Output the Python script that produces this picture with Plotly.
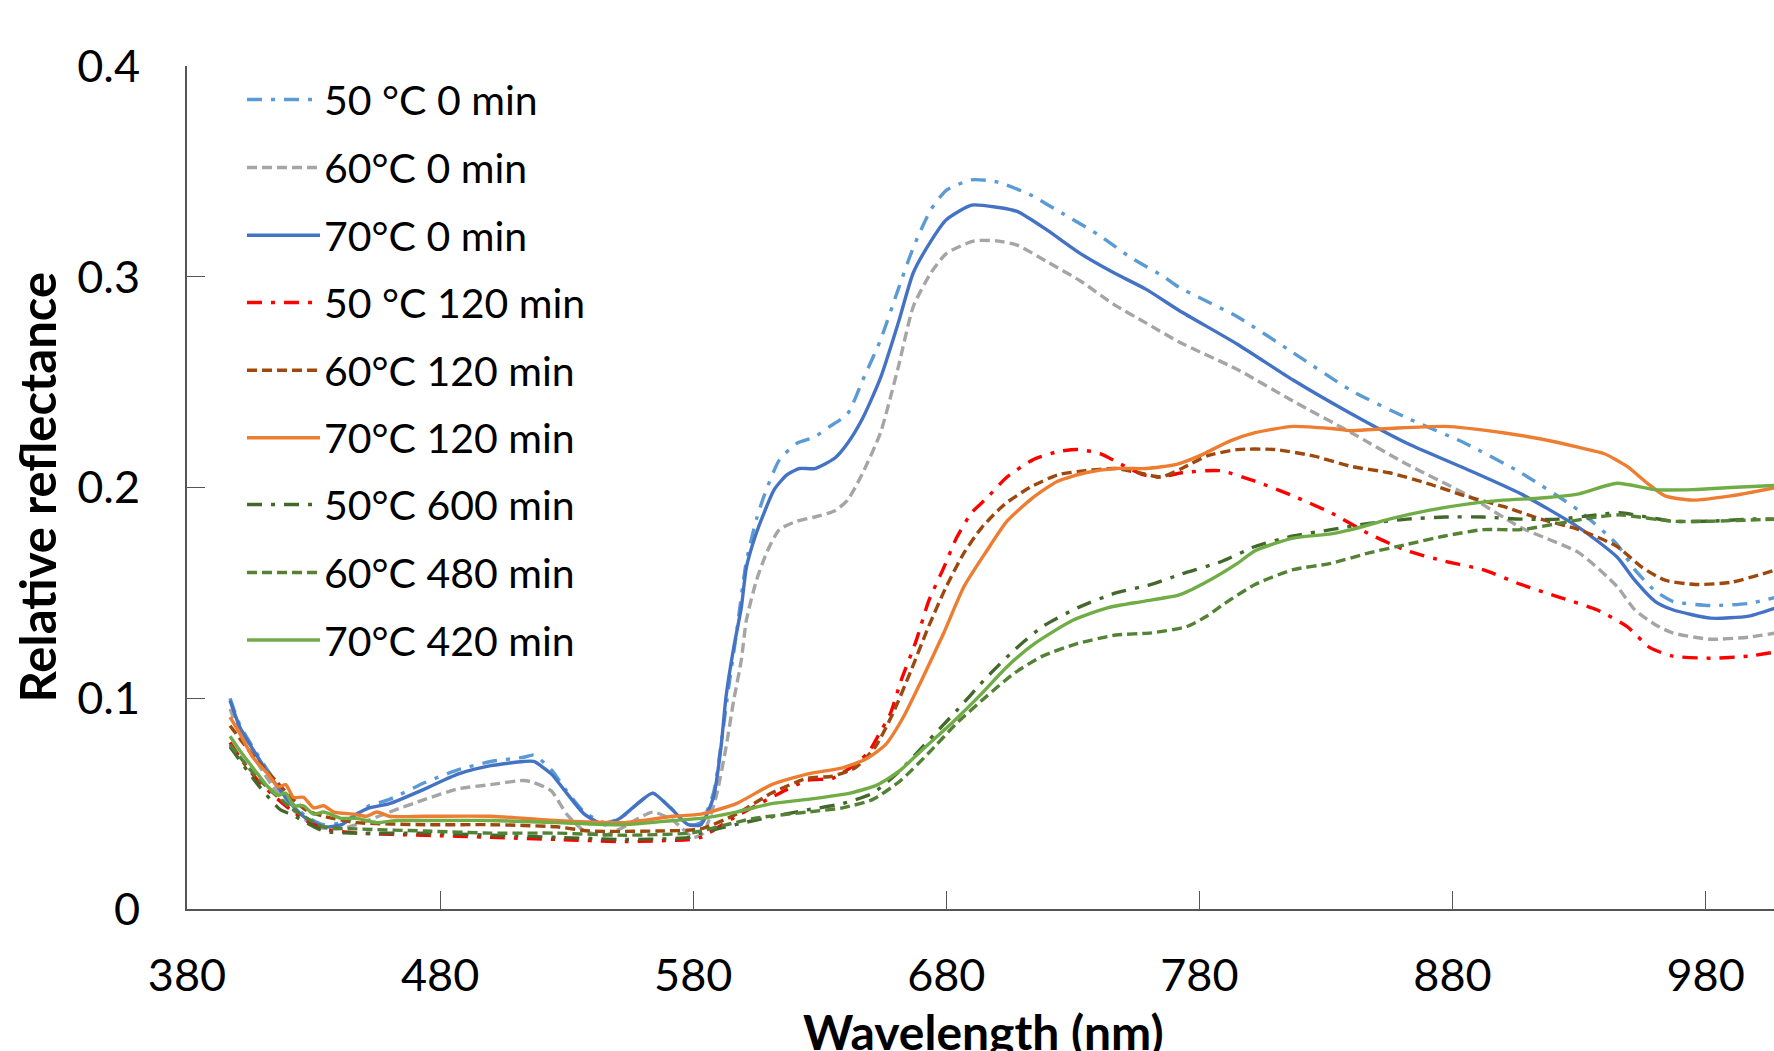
import plotly.graph_objects as go

# ---------------- data ----------------
series_names = ["50 °C 0 min", "60°C 0 min", "70°C 0 min",
                "50 °C 120 min", "60°C 120 min", "70°C 120 min",
                "50°C 600 min", "60°C 480 min", "70°C 420 min"]

wl_50_0 = [397, 401, 408, 414, 421, 427, 434, 441, 447, 452, 460, 474, 487, 500, 513, 517, 524, 530, 537, 545,
           551, 559, 564, 571, 578, 583, 588, 591, 594, 597, 601, 605, 608, 614, 621, 628, 634, 641, 647, 654,
           661, 667, 674, 680, 690, 700, 713, 726, 740, 753, 766, 772, 795, 817, 840, 862, 885, 907, 930, 945,
           952, 960, 967, 982, 997, 1008]
r_50_0 = [0.100, 0.087, 0.073, 0.062, 0.051, 0.044, 0.040, 0.041, 0.045, 0.049, 0.052, 0.060, 0.066, 0.070, 0.072,
          0.073, 0.066, 0.056, 0.046, 0.041, 0.043, 0.051, 0.055, 0.048, 0.040, 0.041, 0.055, 0.078, 0.105, 0.130,
          0.165, 0.185, 0.196, 0.213, 0.221, 0.224, 0.229, 0.235, 0.251, 0.270, 0.294, 0.314, 0.332, 0.341, 0.346,
          0.345, 0.339, 0.330, 0.320, 0.309, 0.300, 0.295, 0.281, 0.264, 0.246, 0.233, 0.221, 0.207, 0.189, 0.173,
          0.161, 0.151, 0.146, 0.144, 0.145, 0.148]

wl_60_0 = [397, 401, 408, 414, 421, 431, 440, 447, 460, 474, 487, 500, 513, 517, 524, 530, 537, 545, 551, 564,
           572, 580, 584, 589, 593, 596, 599, 601, 605, 609, 614, 621, 628, 636, 641, 647, 654, 661, 667, 674,
           680, 691, 700, 708, 720, 733, 746, 759, 772, 795, 817, 840, 862, 885, 907, 930, 945, 952, 960, 967,
           982, 997, 1008]
r_60_0 = [0.095, 0.083, 0.069, 0.058, 0.048, 0.039, 0.038, 0.040, 0.046, 0.052, 0.057, 0.059, 0.061, 0.060, 0.056,
          0.045, 0.037, 0.035, 0.038, 0.046, 0.042, 0.034, 0.036, 0.053, 0.077, 0.099, 0.118, 0.137, 0.156, 0.169,
          0.180, 0.184, 0.186, 0.189, 0.194, 0.207, 0.226, 0.257, 0.286, 0.302, 0.311, 0.317, 0.317, 0.315, 0.307,
          0.298, 0.287, 0.278, 0.269, 0.256, 0.241, 0.226, 0.211, 0.197, 0.181, 0.169, 0.153, 0.142, 0.135, 0.131,
          0.128, 0.129, 0.131]

wl_70_0 = [397, 401, 408, 414, 421, 427, 434, 441, 447, 452, 460, 474, 487, 500, 513, 517, 524, 530, 537, 545,
           551, 559, 564, 571, 578, 583, 588, 591, 593, 596, 599, 601, 604, 608, 612, 617, 622, 628, 636, 641,
           647, 654, 661, 667, 674, 680, 690, 700, 708, 720, 733, 746, 759, 772, 795, 817, 840, 862, 885, 907,
           930, 945, 952, 960, 967, 982, 997, 1008]
r_70_0 = [0.099, 0.086, 0.072, 0.061, 0.050, 0.043, 0.039, 0.040, 0.045, 0.048, 0.050, 0.057, 0.064, 0.068, 0.070,
          0.070, 0.064, 0.055, 0.045, 0.040, 0.043, 0.051, 0.055, 0.048, 0.040, 0.040, 0.053, 0.077, 0.101, 0.124,
          0.143, 0.162, 0.175, 0.188, 0.199, 0.206, 0.209, 0.209, 0.214, 0.221, 0.233, 0.252, 0.278, 0.302, 0.317,
          0.327, 0.334, 0.333, 0.331, 0.322, 0.311, 0.302, 0.294, 0.284, 0.268, 0.251, 0.235, 0.221, 0.209, 0.197,
          0.181, 0.167, 0.156, 0.146, 0.142, 0.138, 0.139, 0.143]

wl_50_120 = [397, 402, 408, 414, 421, 427, 434, 447, 474, 500, 526, 553, 579, 583, 597, 611, 625, 635, 642, 649,
             653, 658, 662, 668, 673, 679, 684, 690, 696, 704, 714, 724, 732, 741, 749, 758, 765, 773, 788, 802,
             817, 832, 847, 862, 877, 892, 907, 922, 937, 949, 958, 967, 982, 997, 1008]
r_50_120 = [0.079, 0.070, 0.061, 0.054, 0.047, 0.042, 0.038, 0.036, 0.035, 0.034, 0.033, 0.032, 0.033, 0.034, 0.044,
            0.053, 0.061, 0.062, 0.067, 0.074, 0.082, 0.093, 0.108, 0.127, 0.146, 0.162, 0.176, 0.188, 0.195, 0.205,
            0.213, 0.217, 0.218, 0.216, 0.211, 0.206, 0.205, 0.207, 0.208, 0.203, 0.196, 0.188, 0.178, 0.170, 0.165,
            0.161, 0.154, 0.148, 0.142, 0.134, 0.124, 0.120, 0.119, 0.120, 0.122]

wl_60_120 = [397, 402, 408, 415, 421, 427, 434, 447, 474, 500, 526, 539, 566, 583, 597, 611, 625, 635, 644, 652,
             659, 666, 673, 680, 687, 694, 703, 713, 724, 735, 747, 756, 765, 773, 783, 795, 810, 825, 840, 855,
             870, 885, 900, 915, 930, 945, 955, 964, 976, 990, 1008]
r_60_120 = [0.087, 0.079, 0.070, 0.061, 0.053, 0.047, 0.044, 0.041, 0.040, 0.040, 0.039, 0.037, 0.037, 0.038, 0.045,
            0.055, 0.062, 0.063, 0.067, 0.077, 0.093, 0.113, 0.134, 0.153, 0.169, 0.181, 0.192, 0.200, 0.206, 0.208,
            0.209, 0.207, 0.205, 0.209, 0.215, 0.218, 0.218, 0.215, 0.210, 0.207, 0.202, 0.196, 0.191, 0.185, 0.180,
            0.172, 0.162, 0.156, 0.154, 0.155, 0.161]

wl_70_120 = [397, 401, 406, 412, 416, 419, 422, 426, 430, 434, 438, 446, 451, 455, 460, 474, 500, 526, 553, 572,
             583, 597, 611, 625, 639, 648, 656, 663, 670, 679, 687, 696, 704, 714, 724, 735, 747, 759, 771, 780,
             792, 802, 817, 832, 840, 855, 877, 900, 915, 930, 940, 949, 957, 964, 975, 990, 1008]
r_70_120 = [0.091, 0.083, 0.072, 0.064, 0.058, 0.059, 0.053, 0.053, 0.048, 0.049, 0.046, 0.045, 0.044, 0.046, 0.044,
            0.044, 0.044, 0.042, 0.041, 0.044, 0.045, 0.050, 0.059, 0.064, 0.067, 0.071, 0.078, 0.091, 0.108, 0.131,
            0.153, 0.170, 0.184, 0.195, 0.203, 0.207, 0.209, 0.209, 0.211, 0.215, 0.222, 0.226, 0.229, 0.228, 0.227,
            0.228, 0.229, 0.226, 0.223, 0.219, 0.216, 0.210, 0.202, 0.196, 0.194, 0.196, 0.200]

wl_50_600 = [397, 408, 417, 421, 434, 447, 474, 500, 526, 553, 579, 583, 604, 625, 639, 651, 662, 673, 684, 696,
             707, 718, 732, 747, 761, 773, 789, 802, 817, 832, 847, 862, 877, 892, 907, 922, 937, 946, 967, 982,
             997, 1008]
r_50_600 = [0.077, 0.059, 0.047, 0.045, 0.037, 0.036, 0.036, 0.035, 0.034, 0.033, 0.034, 0.036, 0.042, 0.047, 0.050,
            0.055, 0.066, 0.080, 0.094, 0.110, 0.123, 0.134, 0.143, 0.150, 0.154, 0.159, 0.165, 0.172, 0.177, 0.180,
            0.183, 0.185, 0.186, 0.186, 0.185, 0.185, 0.187, 0.188, 0.184, 0.184, 0.185, 0.185]

wl_60_480 = [397, 408, 421, 434, 447, 474, 500, 526, 553, 579, 583, 604, 625, 639, 651, 662, 673, 684, 696, 707,
             718, 732, 747, 761, 775, 783, 790, 802, 817, 832, 847, 862, 877, 892, 907, 922, 937, 946, 967, 982,
             1008]
r_60_480 = [0.078, 0.062, 0.048, 0.039, 0.038, 0.037, 0.036, 0.036, 0.035, 0.036, 0.037, 0.043, 0.046, 0.048, 0.052,
            0.061, 0.074, 0.088, 0.101, 0.112, 0.120, 0.126, 0.130, 0.131, 0.134, 0.139, 0.145, 0.154, 0.161, 0.164,
            0.169, 0.173, 0.177, 0.180, 0.180, 0.183, 0.186, 0.187, 0.184, 0.184, 0.185]

wl_70_420 = [397, 401, 408, 412, 416, 419, 422, 426, 430, 434, 441, 447, 455, 463, 474, 500, 526, 553, 572, 583,
             597, 611, 625, 642, 653, 662, 670, 682, 693, 704, 715, 730, 744, 758, 772, 784, 795, 802, 817, 832,
             840, 855, 870, 885, 900, 915, 930, 945, 960, 975, 990, 1008]
r_70_420 = [0.082, 0.075, 0.064, 0.058, 0.054, 0.055, 0.049, 0.049, 0.045, 0.046, 0.043, 0.043, 0.041, 0.042, 0.042,
            0.042, 0.041, 0.040, 0.042, 0.043, 0.046, 0.050, 0.052, 0.055, 0.059, 0.066, 0.075, 0.088, 0.101, 0.115,
            0.126, 0.137, 0.143, 0.146, 0.149, 0.156, 0.164, 0.170, 0.176, 0.178, 0.180, 0.185, 0.189, 0.192, 0.194,
            0.195, 0.197, 0.202, 0.199, 0.199, 0.200, 0.201]

x_tick_values = [380, 480, 580, 680, 780, 880, 980]
y_tick_values = [0, 0.1, 0.2, 0.3, 0.4]
x_title = "Wavelength (nm)"
y_title = "Relative reflectance"

# ---------------- styles ----------------
wavelengths = [wl_50_0, wl_60_0, wl_70_0, wl_50_120, wl_60_120, wl_70_120, wl_50_600, wl_60_480, wl_70_420]
reflectances = [r_50_0, r_60_0, r_70_0, r_50_120, r_60_120, r_70_120, r_50_600, r_60_480, r_70_420]
colors = ["#5B9BD5", "#A5A5A5", "#4472C4", "#FF0000", "#9E480E", "#ED7D31", "#43682B", "#548235", "#70AD47"]
DASHDOT = "15px,9px,4px,9px"
DASH = "10px,5px"
dashes = [DASHDOT, DASH, "solid", DASHDOT, DASH, "solid", DASHDOT, DASH, "solid"]
LW = 3.4
FONT = "Lato, 'Open Sans', sans-serif"
AXIS_COLOR = "#555555"

fig = go.Figure()
for name, xs, ys, c, d in zip(series_names, wavelengths, reflectances, colors, dashes):
    fig.add_trace(go.Scatter(x=xs, y=ys, mode="lines", name=name,
                             line=dict(color=c, width=LW, dash=d, shape="spline", smoothing=0.6),
                             showlegend=False))

# ---------------- layout geometry (pixels) ----------------
W, H = 1774, 1051
ML, MR, MT, MB = 187, 0, 66, 142
PW, PH = W - ML - MR, H - MT - MB


def px_x(px):
    return (px - ML) / PW


def px_y(py):
    return (H - MB - py) / PH


fig.update_layout(
    width=W, height=H,
    margin=dict(l=ML, r=MR, t=MT, b=MB, pad=0),
    paper_bgcolor="white", plot_bgcolor="white",
    font=dict(family=FONT, color="black"),
    showlegend=False,
    xaxis=dict(range=[380, 380 + PW / 2.531], tickmode="array", tickvals=x_tick_values,
               ticktext=[str(v) for v in x_tick_values],
               showgrid=False, zeroline=False, showline=True, linecolor=AXIS_COLOR, linewidth=2,
               ticks="inside", ticklen=18, tickwidth=1.3, tickcolor=AXIS_COLOR,
               tickfont=dict(family=FONT, size=45, color="black"), ticklabelstandoff=26,
               automargin=False),
    yaxis=dict(range=[0, 0.4], tickmode="array", tickvals=y_tick_values,
               ticktext=["0", "0.1", "0.2", "0.3", "0.4"],
               showgrid=False, zeroline=False, showline=True, linecolor=AXIS_COLOR, linewidth=2,
               ticks="inside", ticklen=18, tickwidth=1.3, tickcolor=AXIS_COLOR,
               tickfont=dict(family=FONT, size=45, color="black"), ticklabelstandoff=36,
               automargin=False),
)

annotations = [
    dict(text="<b>%s</b>" % x_title, xref="paper", yref="paper", x=px_x(984), y=px_y(1031),
         xanchor="center", yanchor="middle", showarrow=False,
         font=dict(family=FONT, size=48, color="black")),
    dict(text="<b>%s</b>" % y_title, xref="paper", yref="paper", x=px_x(36), y=0.5,
         xanchor="center", yanchor="middle", textangle=-90, showarrow=False,
         font=dict(family=FONT, size=49, color="black")),
]

# manual legend (long line samples like the original)
legend_rows = [99.6, 167.4, 235.3, 302.4, 370.2, 437.7, 504.6, 572.6, 640.0]
shapes = []
for name, c, d, yc in zip(series_names, colors, dashes, legend_rows):
    shapes.append(dict(type="line", xref="paper", yref="paper",
                       x0=px_x(247), x1=px_x(320), y0=px_y(yc), y1=px_y(yc),
                       line=dict(color=c, width=3.5, dash=d)))
    annotations.append(dict(text=name, xref="paper", yref="paper", x=px_x(322), y=px_y(yc),
                            xanchor="left", yanchor="middle", showarrow=False,
                            font=dict(family=FONT, size=41, color="black")))

fig.update_layout(annotations=annotations, shapes=shapes)
fig.write_html("out.html", config={"displayModeBar": False},
               post_script="document.body.style.margin='0';document.body.style.overflow='hidden';")
